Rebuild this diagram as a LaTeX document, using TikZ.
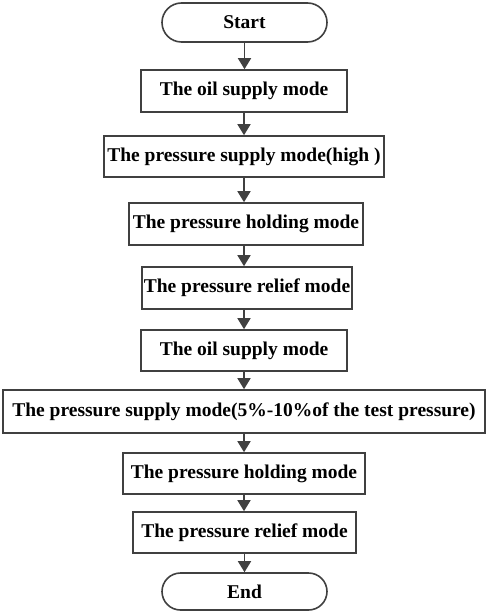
\documentclass[tikz,border=0pt]{standalone}
\usepackage{fontspec}
\setmainfont{Liberation Serif}
\usetikzlibrary{shapes.misc,arrows.meta}

\definecolor{linecol}{RGB}{64,64,64}
\tikzset{
  modebox/.style={draw=linecol,line width=1.6pt,minimum height=42pt,inner sep=0pt,
    font=\bfseries\fontsize{19.5}{22}\selectfont},
  termbox/.style={modebox,rounded rectangle,minimum height=39pt},
  flowarrow/.style={draw=linecol,line width=1.6pt,-{Triangle[length=11pt,width=13pt]}}
}

\begin{document}
\begin{tikzpicture}[x=1pt,y=-1pt]
\useasboundingbox (0,0) rectangle (486,612);
% boxes
\node[termbox,minimum width=165pt] (start) at (244.5,22.5) {Start};
\node[modebox,minimum width=206pt] (oil1) at (244,91) {The oil supply mode};
\node[modebox,minimum width=280pt,minimum height=41pt] (high) at (244,156.5) {The pressure supply mode(high )};
\node[modebox,minimum width=234pt] (hold1) at (246,224) {The pressure holding mode};
\node[modebox,minimum width=210pt] (relief1) at (247,288) {The pressure relief mode};
\node[modebox,minimum width=206pt,minimum height=41pt] (oil2) at (244,350.5) {The oil supply mode};
\node[modebox,minimum width=482pt,minimum height=43pt] (low) at (244,411.5) {The pressure supply mode(5\%-10\%of the test pressure)};
\node[modebox,minimum width=242pt,minimum height=41pt] (hold2) at (244,473.5) {The pressure holding mode};
\node[modebox,minimum width=223pt,minimum height=41pt] (relief2) at (244.5,532.5) {The pressure relief mode};
\node[termbox,minimum width=165pt,minimum height=37pt] (end) at (244.5,591.5) {End};
% arrows
\draw[flowarrow] (start.south) -- (start.south |- oil1.north);
\draw[flowarrow] (oil1.south) -- (oil1.south |- high.north);
\draw[flowarrow] (high.south) -- (high.south |- hold1.north);
\draw[flowarrow] (high.south |- hold1.south) -- (high.south |- relief1.north);
\draw[flowarrow] (high.south |- relief1.south) -- (high.south |- oil2.north);
\draw[flowarrow] (oil2.south) -- (oil2.south |- low.north);
\draw[flowarrow] (low.south) -- (low.south |- hold2.north);
\draw[flowarrow] (hold2.south) -- (hold2.south |- relief2.north);
\draw[flowarrow] (relief2.south) -- (relief2.south |- end.north);
\end{tikzpicture}
\end{document}
